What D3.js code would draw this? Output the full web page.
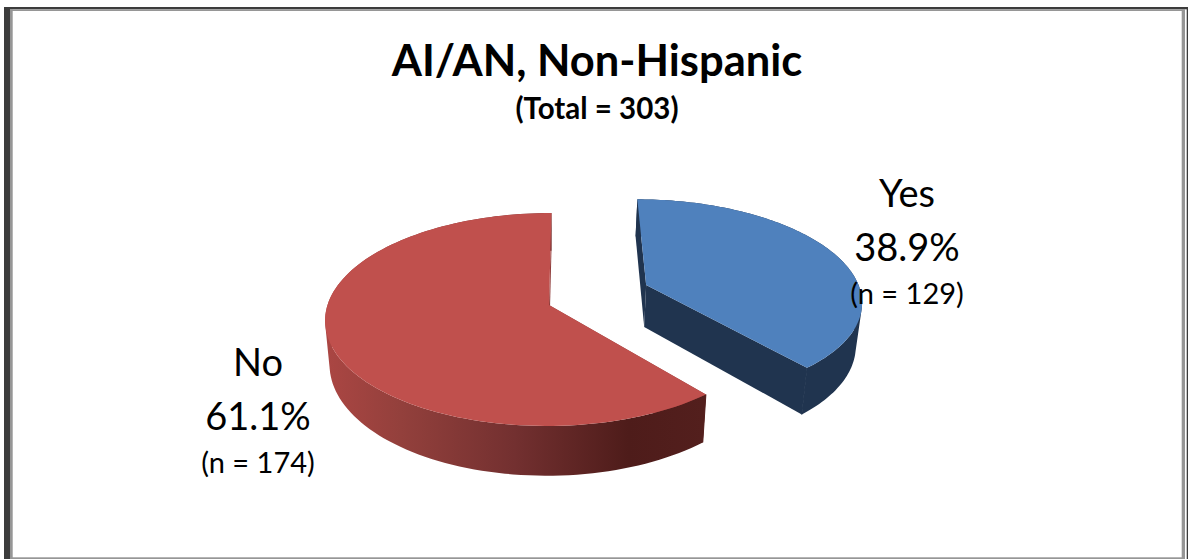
<!DOCTYPE html>
<html>
<head>
<meta charset="utf-8">
<script src="https://cdnjs.cloudflare.com/ajax/libs/d3/7.8.5/d3.min.js"></script>
<style>
html,body{margin:0;padding:0;background:#fff;overflow:hidden}
svg{display:block}
text{font-family:Lato,"Noto Sans",sans-serif;fill:#000;text-anchor:middle}
</style>
</head>
<body>
<svg id="c" width="1188" height="559"></svg>
<script>
const categories = ["Yes", "No"];
const percents = [38.9, 61.1];
const counts = [129, 174];
const chartTitle = "AI/AN, Non-Hispanic";
const chartSubtitle = "(Total = 303)";

const svg = d3.select("#c");

// frame
const frameBars = [
  [4,7,6,552,"#3c3c3c"],[4,7,1184,2.3,"#3c3c3c"],[1186.7,7,1.3,552,"#3c3c3c"],
  [10,9.3,2.7,550,"#969696"],[10,9.3,1175,1.7,"#969696"],[1181.7,9.3,3.3,550,"#969696"],[10,557.3,1175,1.7,"#969696"]
];
svg.selectAll("rect.frame").data(frameBars).join("rect").attr("class","frame")
  .attr("x",d=>d[0]).attr("y",d=>d[1]).attr("width",d=>d[2]).attr("height",d=>d[3]).attr("fill",d=>d[4]);

// pie projection
const cx = 549, cy = 305, R = 221.5, Ry = 104.5, persp = 0.136, depth = 43, skew = 2.5, xShrink = 0.98;
const explode = {Yes:[0.455,0.2,0.985,0.98], No:[0,0,1,1]};
function project(a, r, off, bottom){
  const X = r*Math.sin(a)+off[0], Y = r*Math.cos(a)+off[1];
  const w = 1+persp*Y;
  const k = bottom ? xShrink : 1;
  return [cx + k*(R*off[2]*X/w + skew*Y), cy - Ry*off[3]*Y/w + (bottom ? depth/w : 0)];
}
const pieGen = d3.pie().sort(null).startAngle(0).endAngle(2*Math.PI);
const slices = pieGen(percents).map((d,i)=>({...d,name:categories[i]}));
const line = d3.line().curve(d3.curveLinear);
const steps = 120;
const rim = (s,off,bottom)=>d3.range(0,steps+1).map(i=>project(s.startAngle+(s.endAngle-s.startAngle)*i/steps,1,off,bottom));

const defs = svg.append("defs");
const xs = d3.scaleLinear().domain([0,1]).range([325,704]);
const grad = defs.append("linearGradient").attr("id","redWall").attr("gradientUnits","userSpaceOnUse")
  .attr("x1",xs(0)).attr("x2",xs(1)).attr("y1",0).attr("y2",0);
[[0,"#ab4643"],[0.2,"#93403c"],[0.5,"#733030"],[0.8,"#4e1c1a"],[1,"#531f1d"]].forEach(s=>
  grad.append("stop").attr("offset",s[0]).attr("stop-color",s[1]));

const styles = {
  No:{top:"#c0504d",rim:"url(#redWall)",face:"#8f3c3a"},
  Yes:{top:"#4f81bd",rim:"#20344f",face:"#20344f"}
};
["No","Yes"].forEach(name=>{
  const s = slices.find(d=>d.name===name), off = explode[name], st = styles[name];
  const apexT = project(0,0,off,false), apexB = project(0,0,off,true);
  const g = svg.append("g");
  // radial side faces
  [s.startAngle,s.endAngle].forEach(a=>{
    g.append("path").attr("d",line([apexT,project(a,1,off,false),project(a,1,off,true),apexB])+"Z").attr("fill",st.face);
  });
  // outer wall: one path of consistently wound quads, so there are no seams
  const t = rim(s,off,false), b = rim(s,off,true);
  const wallPath = d3.range(steps).map(i=>{
    const q = [t[i],t[i+1],b[i+1],b[i]];
    if (d3.polygonArea(q) < 0) q.reverse();
    return line(q)+"Z";
  }).join("");
  g.append("path").attr("d",wallPath).attr("fill",st.rim).attr("fill-rule","nonzero");
  // the dark end of the red wall and the blue end face share one edge colour
  g.append("path").attr("d",line([t[name==="No"?0:steps],b[name==="No"?0:steps]]))
    .attr("fill","none").attr("stroke",name==="No"?"#531f1d":st.rim).attr("stroke-width",1);
  // top
  g.append("path").attr("d",line([apexT].concat(t))+"Z").attr("fill",st.top);
});

// text
svg.append("text").attr("x",597).attr("y",76).attr("font-size",43.5).attr("font-weight",700).text(chartTitle);
svg.append("text").attr("x",597).attr("y",119).attr("font-size",29.5).attr("font-weight",700).text(chartSubtitle);

const labelPos = {Yes:[907,207],No:[258,375.5]};
categories.forEach((c,i)=>{
  const p = labelPos[c];
  svg.append("text").attr("x",p[0]).attr("y",p[1]).attr("font-size",38).text(c);
  svg.append("text").attr("x",p[0]).attr("y",p[1]+54).attr("font-size",38).text(percents[i].toFixed(1)+"%");
  svg.append("text").attr("x",p[0]).attr("y",p[1]+97).attr("font-size",29).text("(n = "+counts[i]+")");
});
</script>
</body>
</html>
